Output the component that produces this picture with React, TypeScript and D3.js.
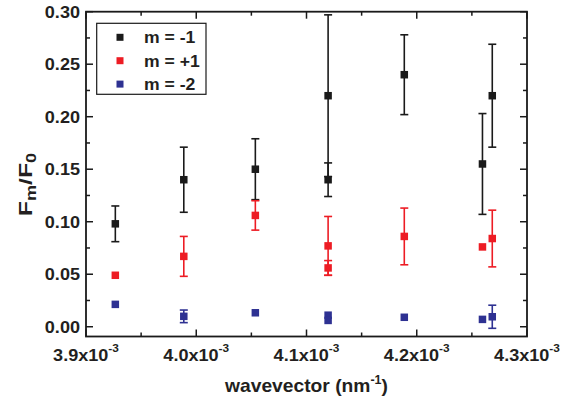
import React from 'react';
import * as d3 from 'd3';

// ---- data ----
const xValues = [3.9266e-3, 3.9887e-3, 4.0536e-3, 4.1196e-3, 4.1196e-3, 4.1887e-3, 4.2596e-3, 4.2685e-3];
const mMinus1 = [0.098, 0.14, 0.15, 0.22, 0.14, 0.24, 0.155, 0.22];
const mMinus1Err = [0.017, 0.031, 0.029, 0.077, 0.016, 0.038, 0.048, 0.049];
const mPlus1 = [0.049, 0.067, 0.106, 0.077, 0.056, 0.086, 0.076, 0.084];
const mPlus1Err = [0, 0.019, 0.014, 0.028, 0.007, 0.027, 0, 0.027];
const mMinus2 = [0.0213, 0.0099, 0.0133, 0.011, 0.006, 0.009, 0.007, 0.0095];
const mMinus2Err = [0, 0.006, 0, 0, 0, 0, 0, 0.011];

const seriesNames = ['m = -1', 'm = +1', 'm = -2'];
const seriesColors = ['#1a1a1a', '#ed1c24', '#2e3192'];

const xTicks = [3.9e-3, 4.0e-3, 4.1e-3, 4.2e-3, 4.3e-3];
const xTickLabels = ['3.9x10', '4.0x10', '4.1x10', '4.2x10', '4.3x10'];
const xMinorTicks = [3.95e-3, 4.05e-3, 4.15e-3, 4.25e-3];
const yTicks = [0, 0.05, 0.1, 0.15, 0.2, 0.25, 0.3];
const yTickLabels = ['0.00', '0.05', '0.10', '0.15', '0.20', '0.25', '0.30'];
const yMinorTicks = [0.025, 0.075, 0.125, 0.175, 0.225, 0.275];

const W = 572;
const H = 403;
const left = 86;
const right = 527;
const top = 11.7;
const bottom = 336.5;

const FONT = '"Liberation Sans", Arial, Helvetica, sans-serif';

export default function App() {
  const x = d3.scaleLinear().domain([3.9e-3, 4.3e-3]).range([left, right]);
  const y = d3.scaleLinear().domain([-0.0093, 0.3]).range([bottom, top]);

  const series = [
    { vals: mMinus1, errs: mMinus1Err },
    { vals: mPlus1, errs: mPlus1Err },
    { vals: mMinus2, errs: mMinus2Err },
  ];

  const sq = 7.5;
  const cap = 4;
  const majorLen = 7;
  const minorLen = 4;
  const sx = 1.13;

  return (
    <svg width={W} height={H} style={{ position: 'absolute', left: 0, top: 0 }}>
      <rect x={0} y={0} width={W} height={H} fill="#fff" />
      {/* ticks */}
      <g stroke="#1a1a1a" strokeWidth={1.5}>
        {xTicks.map((t, i) => (
          <g key={'xt' + i}>
            <line x1={x(t)} x2={x(t)} y1={bottom} y2={bottom - majorLen} />
            <line x1={x(t)} x2={x(t)} y1={top} y2={top + majorLen} />
          </g>
        ))}
        {xMinorTicks.map((t, i) => (
          <g key={'xm' + i}>
            <line x1={x(t)} x2={x(t)} y1={bottom} y2={bottom - minorLen} />
            <line x1={x(t)} x2={x(t)} y1={top} y2={top + minorLen} />
          </g>
        ))}
        {yTicks.map((t, i) => (
          <g key={'yt' + i}>
            <line x1={left} x2={left + majorLen} y1={y(t)} y2={y(t)} />
            <line x1={right} x2={right - majorLen} y1={y(t)} y2={y(t)} />
          </g>
        ))}
        {yMinorTicks.map((t, i) => (
          <g key={'ym' + i}>
            <line x1={left} x2={left + minorLen} y1={y(t)} y2={y(t)} />
            <line x1={right} x2={right - minorLen} y1={y(t)} y2={y(t)} />
          </g>
        ))}
      </g>
      <rect x={left} y={top} width={right - left} height={bottom - top} fill="none" stroke="#1a1a1a" strokeWidth={1.8} />

      {/* tick labels */}
      <g fontFamily={FONT} fontWeight="bold" fontSize={16} fill="#231f20">
        {yTicks.map((t, i) => (
          <text key={'yl' + i} transform={`translate(${left - 6},${y(t) + 5.8}) scale(${sx},1)`} textAnchor="end">
            {yTickLabels[i]}
          </text>
        ))}
        {xTicks.map((t, i) => (
          <text key={'xl' + i} transform={`translate(${x(t)},${bottom + 24.5}) scale(${sx},1)`} textAnchor="middle">
            {xTickLabels[i]}
            <tspan fontSize={10.5} dy={-9}>-3</tspan>
          </text>
        ))}
      </g>

      {/* axis titles */}
      <text
        fontFamily={FONT}
        fontWeight="bold"
        fontSize={18.5}
        fill="#231f20"
        transform={`translate(${(left + right) / 2},${391.5}) scale(1.04,1)`}
        textAnchor="middle"
      >
        wavevector (nm<tspan fontSize={12} dy={-8}>-1</tspan>
        <tspan dy={8}>)</tspan>
      </text>
      <text
        fontFamily={FONT}
        fontWeight="bold"
        fontSize={19}
        fill="#231f20"
        transform={`translate(${32},${184.5}) rotate(-90) scale(1.3,1)`}
        textAnchor="middle"
      >
        F<tspan fontSize={14} dy={4}>m</tspan>
        <tspan dy={-4}>/F</tspan>
        <tspan fontSize={14} dy={4}>0</tspan>
      </text>

      {/* data */}
      {series.map((s, si) => (
        <g key={'s' + si} stroke={seriesColors[si]} fill={seriesColors[si]}>
          {s.vals.map((v, i) => {
            const cx = x(xValues[i]);
            const e = s.errs[i];
            return (
              <g key={i}>
                {e > 0 && (
                  <g strokeWidth={1.6}>
                    <line x1={cx} x2={cx} y1={y(v - e)} y2={y(v + e)} />
                    <line x1={cx - cap} x2={cx + cap} y1={y(v + e)} y2={y(v + e)} />
                    <line x1={cx - cap} x2={cx + cap} y1={y(v - e)} y2={y(v - e)} />
                  </g>
                )}
                <rect x={cx - sq / 2} y={y(v) - sq / 2} width={sq} height={sq} stroke="none" />
              </g>
            );
          })}
        </g>
      ))}

      {/* legend */}
      <rect x={96.7} y={23.3} width={109.3} height={71} fill="#fff" stroke="#1a1a1a" strokeWidth={1.2} />
      {seriesNames.map((n, i) => (
        <g key={'lg' + i}>
          <rect x={120 - 3.5} y={37.3 + i * 23.4 - 3.5} width={7} height={7} fill={seriesColors[i]} />
          <text
            fontFamily={FONT}
            fontWeight="bold"
            fontSize={16}
            fill="#231f20"
            transform={`translate(${144},${37.3 + i * 23.4 + 5.8}) scale(1.1,1)`}
          >
            {n}
          </text>
        </g>
      ))}
    </svg>
  );
}
